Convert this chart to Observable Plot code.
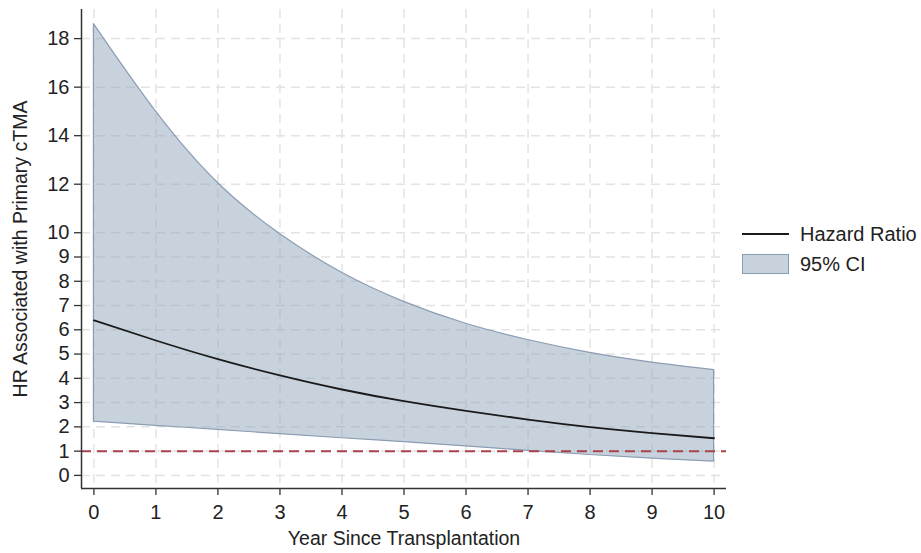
<!DOCTYPE html>
<html>
<head>
<meta charset="utf-8">
<script src="https://cdn.jsdelivr.net/npm/d3@7"></script>
<script src="https://cdn.jsdelivr.net/npm/@observablehq/plot@0.6"></script>
<style>
  html, body { margin: 0; padding: 0; background: #fff; }
  #wrap { position: relative; width: 921px; height: 553px; font-family: "Liberation Sans", Arial, sans-serif; }
  #legend { position: absolute; left: 742px; top: 219px; font-size: 20px; color: #222; }
  .row { display: flex; align-items: center; height: 30px; }
  .row svg { margin-right: 11px; }
</style>
</head>
<body>
<div id="wrap">
  <div id="chart"></div>
  <div id="legend">
    <div class="row"><svg width="47" height="20"><line x1="0" x2="47" y1="10" y2="10" stroke="#1a1a1a" stroke-width="1.8"/></svg><span>Hazard Ratio</span></div>
    <div class="row"><svg width="47" height="20"><rect x="0.5" y="0.5" width="46" height="19" fill="#c8d2dd" stroke="#8b9db3" stroke-width="1"/></svg><span>95% CI</span></div>
  </div>
</div>
<script>
const years = [0, 1, 2, 3, 4, 5, 6, 7, 8, 9, 10];
const hazardRatio = [6.39, 5.56, 4.79, 4.12, 3.54, 3.06, 2.66, 2.30, 1.99, 1.74, 1.53];
const ciUpper = [18.6, 15.0, 12.05, 9.95, 8.35, 7.15, 6.25, 5.58, 5.05, 4.65, 4.34];
const ciLower = [2.22, 2.04, 1.88, 1.70, 1.53, 1.37, 1.20, 1.01, 0.84, 0.69, 0.57];
const xTicks = [0, 1, 2, 3, 4, 5, 6, 7, 8, 9, 10];
const yTicks = [0, 1, 2, 3, 4, 5, 6, 7, 8, 9, 10, 12, 14, 16, 18];
const xDomain = [-0.2, 10.2];
const yDomain = [-0.54, 19.2];
const nullValue = [1];

const data = years.map((t, i) => ({t, hr: hazardRatio[i], lo: ciLower[i], hi: ciUpper[i]}));

const chart = Plot.plot({
  width: 921,
  height: 553,
  marginLeft: 81,
  marginTop: 9,
  marginBottom: 65,
  marginRight: 195,
  style: {fontFamily: "'Liberation Sans', Arial, sans-serif", fontSize: "20px", color: "#222", background: "#fff"},
  x: {domain: xDomain},
  y: {domain: yDomain},
  marks: [
    Plot.gridX(xTicks, {stroke: "#e3e3e3", strokeOpacity: 1, strokeWidth: 1.5, strokeDasharray: "9,6"}),
    Plot.gridY(yTicks, {stroke: "#e3e3e3", strokeOpacity: 1, strokeWidth: 1.5, strokeDasharray: "9,6"}),
    Plot.areaY(data, {x: "t", y1: "lo", y2: "hi", fill: "#91a5bb", fillOpacity: 0.5, stroke: "#8b9db3", strokeWidth: 1.2, curve: "natural"}),
    Plot.lineY(data, {x: "t", y: "hr", stroke: "#1a1a1a", strokeWidth: 1.8, curve: "natural"}),
    Plot.ruleY(nullValue, {stroke: "#a8434b", strokeWidth: 2, strokeDasharray: "10,6"}),
    Plot.ruleX([xDomain[0]], {stroke: "#333", strokeWidth: 1.5}),
    Plot.ruleY([yDomain[0]], {stroke: "#333", strokeWidth: 1.5}),
    Plot.axisX(xTicks, {tickSize: 7, tickPadding: 9, stroke: "#333", strokeWidth: 1.3, fontSize: 20, label: null}),
    Plot.axisX({ticks: [], label: "Year Since Transplantation", labelAnchor: "center", labelArrow: "none", labelOffset: 56, fontSize: 19.5}),
    Plot.axisY(yTicks, {tickSize: 7, tickPadding: 5, stroke: "#333", strokeWidth: 1.3, fontSize: 20, label: null}),
    Plot.axisY({ticks: [], label: "HR Associated with Primary cTMA", labelAnchor: "center", labelArrow: "none", labelOffset: 68, fontSize: 19.5})
  ]
});
document.getElementById("chart").appendChild(chart);
</script>
</body>
</html>
